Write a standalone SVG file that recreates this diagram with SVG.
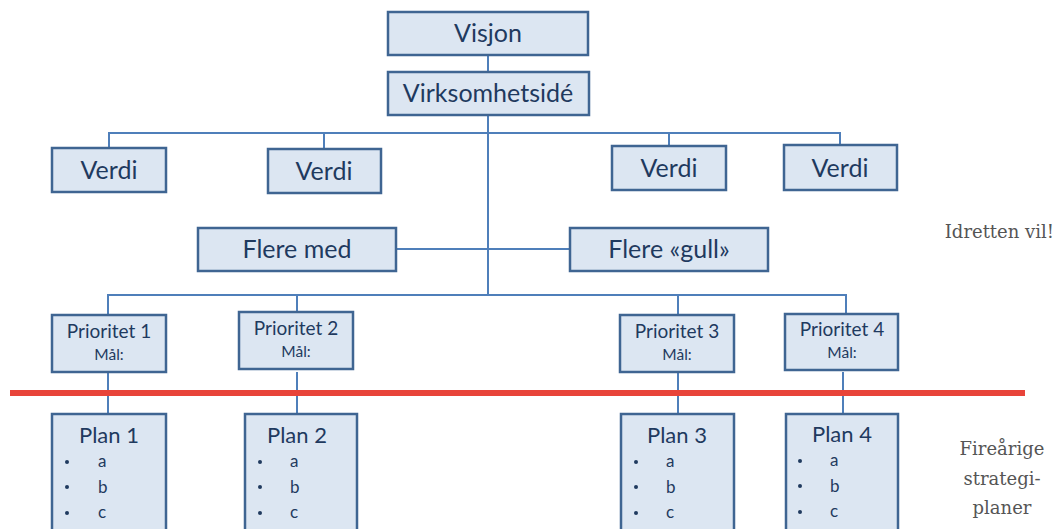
<svg xmlns="http://www.w3.org/2000/svg" width="1058" height="529" viewBox="0 0 1058 529">
  <style>
    .box { fill: #DCE6F2; stroke: #3F6592; stroke-width: 2.5; }
    .lbl { font-family: Lato, "Open Sans", "Liberation Sans", sans-serif; fill: #1F3A5F; text-anchor: middle; }
    .big { font-size: 25px; }
    .mid { font-size: 19px; }
    .sm { font-size: 15.5px; }
    .plan { font-size: 22px; }
    .item { font-family: Lato, "Open Sans", "Liberation Sans", sans-serif; fill: #1F3A5F; font-size: 17px; }
    .link { stroke: #4F7FBA; stroke-width: 2; fill: none; }
    .side { font-family: "DejaVu Serif", "Liberation Serif", serif; fill: #555; font-size: 18px; text-anchor: middle; }
    .side.end { text-anchor: end; }
  </style>
  <rect width="1058" height="529" fill="#fff"/>

  <!-- connectors -->
  <g id="connectors">
    <path class="link" d="M488 55 V72"/>
    <path class="link" d="M488 115 V295"/>
    <path class="link" d="M109 148 V133 H840 V145"/>
    <path class="link" d="M324 133 V149"/>
    <path class="link" d="M669 133 V146"/>
    <path class="link" d="M396 249 H570"/>
    <path class="link" d="M108 314 V295 H846 V314"/>
    <path class="link" d="M297 295 V312"/>
    <path class="link" d="M678 295 V314"/>
    <path class="link" d="M108 372 V414"/>
    <path class="link" d="M297 372 V414"/>
    <path class="link" d="M678 372 V414"/>
    <path class="link" d="M843 372 V414"/>
  </g>

  <g id="visjon">
    <rect class="box" x="388" y="12" width="200" height="43"/>
    <text class="lbl big" x="488" y="42">Visjon</text>
  </g>
  <g id="virksomhetside">
    <rect class="box" x="388" y="72" width="201" height="43"/>
    <text class="lbl big" x="488" y="102">Virksomhetsidé</text>
  </g>

  <g id="verdi1">
    <rect class="box" x="52" y="148" width="114" height="44"/>
    <text class="lbl big" x="109" y="179">Verdi</text>
  </g>
  <g id="verdi2">
    <rect class="box" x="268" y="149" width="113" height="44"/>
    <text class="lbl big" x="324" y="180">Verdi</text>
  </g>
  <g id="verdi3">
    <rect class="box" x="612" y="146" width="114" height="44"/>
    <text class="lbl big" x="669" y="177">Verdi</text>
  </g>
  <g id="verdi4">
    <rect class="box" x="784" y="145" width="113" height="45"/>
    <text class="lbl big" x="840" y="177">Verdi</text>
  </g>

  <g id="flere-med">
    <rect class="box" x="198" y="228" width="198" height="43"/>
    <text class="lbl big" x="297" y="258">Flere med</text>
  </g>
  <g id="flere-gull">
    <rect class="box" x="570" y="228" width="198" height="43"/>
    <text class="lbl big" x="669" y="258">Flere «gull»</text>
  </g>

  <g id="prioritet1">
    <rect class="box" x="52" y="315" width="114" height="57"/>
    <text class="lbl mid" x="109" y="338">Prioritet 1</text>
    <text class="lbl sm" x="109" y="360">Mål:</text>
  </g>
  <g id="prioritet2">
    <rect class="box" x="239" y="312" width="114" height="57"/>
    <text class="lbl mid" x="296" y="335">Prioritet 2</text>
    <text class="lbl sm" x="296" y="357">Mål:</text>
  </g>
  <g id="prioritet3">
    <rect class="box" x="620" y="315" width="114" height="57"/>
    <text class="lbl mid" x="677" y="338">Prioritet 3</text>
    <text class="lbl sm" x="677" y="360">Mål:</text>
  </g>
  <g id="prioritet4">
    <rect class="box" x="785" y="314" width="113" height="56"/>
    <text class="lbl mid" x="842" y="336">Prioritet 4</text>
    <text class="lbl sm" x="842" y="358">Mål:</text>
  </g>

  <!-- dividing line -->
  <line x1="10" y1="393" x2="1025" y2="393" stroke="#E8443A" stroke-width="6"/>

  <g id="plan1">
    <rect class="box" x="52" y="414" width="114" height="125"/>
    <text class="lbl plan" x="109" y="443">Plan 1</text>
    <g class="item">
      <circle cx="67" cy="462" r="2"/><text x="98" y="467">a</text>
      <circle cx="67" cy="487" r="2"/><text x="98" y="493">b</text>
      <circle cx="67" cy="513" r="2"/><text x="98" y="518">c</text>
    </g>
  </g>
  <g id="plan2">
    <rect class="box" x="245" y="414" width="112" height="125"/>
    <text class="lbl plan" x="297" y="443">Plan 2</text>
    <g class="item">
      <circle cx="260" cy="462" r="2"/><text x="290" y="467">a</text>
      <circle cx="260" cy="487" r="2"/><text x="290" y="493">b</text>
      <circle cx="260" cy="513" r="2"/><text x="290" y="518">c</text>
    </g>
  </g>
  <g id="plan3">
    <rect class="box" x="621" y="414" width="113" height="125"/>
    <text class="lbl plan" x="677" y="443">Plan 3</text>
    <g class="item">
      <circle cx="636" cy="462" r="2"/><text x="666" y="467">a</text>
      <circle cx="636" cy="487" r="2"/><text x="666" y="493">b</text>
      <circle cx="636" cy="513" r="2"/><text x="666" y="518">c</text>
    </g>
  </g>
  <g id="plan4">
    <rect class="box" x="786" y="414" width="112" height="125"/>
    <text class="lbl plan" x="842" y="442">Plan 4</text>
    <g class="item">
      <circle cx="800" cy="461" r="2"/><text x="830" y="466">a</text>
      <circle cx="800" cy="486" r="2"/><text x="830" y="492">b</text>
      <circle cx="800" cy="512" r="2"/><text x="830" y="517">c</text>
    </g>
  </g>

  <!-- side captions -->
  <text class="side end" x="1054" y="238">Idretten vil!</text>
  <text class="side" x="1002" y="455">Fireårige</text>
  <text class="side" x="1002" y="485">strategi-</text>
  <text class="side" x="1002" y="514">planer</text>
</svg>
